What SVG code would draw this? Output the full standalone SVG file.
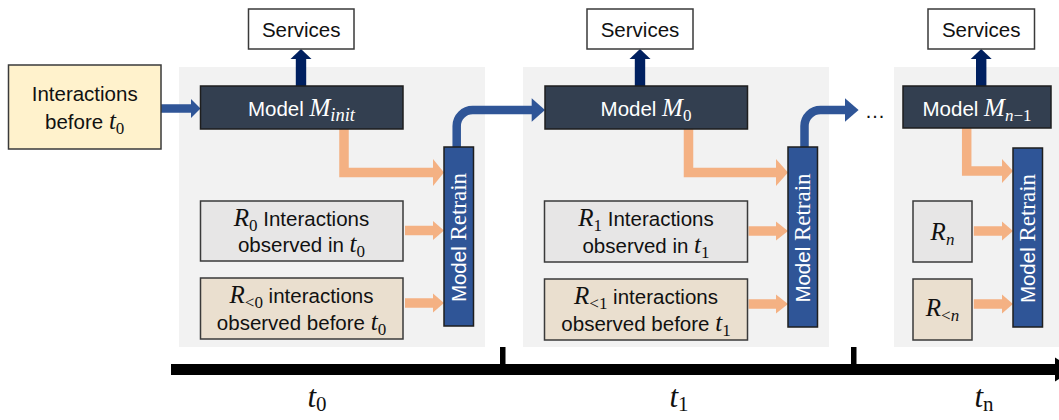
<svg xmlns="http://www.w3.org/2000/svg" width="1059" height="420" viewBox="0 0 1059 420">
<style>
.panel{fill:#F2F2F2}
.svc{fill:#FFFFFF;stroke:#3A3A3A;stroke-width:1.5}
.model{fill:#333F50;stroke:#1E1E1E;stroke-width:1.5}
.retrain{fill:#2F5597;stroke:#1E1E1E;stroke-width:1.5}
.inter{fill:#FFF2CC;stroke:#3A3A3A;stroke-width:1.5}
.rcur{fill:#E7E6E6;stroke:#3A3A3A;stroke-width:1.5}
.rold{fill:#EADFCF;stroke:#3A3A3A;stroke-width:1.5}
.t{font-family:"Liberation Sans",Arial,sans-serif;font-size:20.5px;fill:#111}
.w{fill:#FFFFFF}
.m{font-family:"Liberation Serif","Times New Roman",serif;font-style:italic}
.up{font-family:"Liberation Serif","Times New Roman",serif;font-style:normal}
.ob{fill:none;stroke:#F4B183;stroke-width:9.5;stroke-linejoin:miter}
.oh{fill:#F4B183}
.bb{fill:none;stroke:#2F5597;stroke-width:8.5}
.bh{fill:#2F5597}
.nv{fill:#002060}
</style>

<!-- panels -->
<g id="panel-t0"><rect class="panel" x="179" y="67" width="306" height="280"/></g>
<g id="panel-t1"><rect class="panel" x="523" y="67" width="306" height="280"/></g>
<g id="panel-tn"><rect class="panel" x="894" y="67" width="165" height="280"/></g>

<!-- connectors -->
<g id="connectors">
  <line class="bb" x1="161" y1="108.5" x2="192" y2="108.5" stroke-width="9"/>
  <polygon class="bh" points="191,99 200.5,108.5 191,118"/>
  <rect class="nv" x="295.8" y="58" width="10.4" height="28"/>
  <polygon class="nv" points="290.5,59 301,49 311.5,59"/>
  <rect class="nv" x="634.8" y="58" width="10.4" height="28"/>
  <polygon class="nv" points="629.5,59 640,49 650.5,59"/>
  <rect class="nv" x="976" y="58" width="10.4" height="28"/>
  <polygon class="nv" points="970.7,59 981.2,49 991.7,59"/>
  <path class="ob" d="M344,129 V172.5 H434"/>
  <polygon class="oh" points="433,159 444,172.5 433,186"/>
  <path class="ob" d="M688.5,129 V172.5 H777"/>
  <polygon class="oh" points="776,159 788,172.5 776,186"/>
  <path class="ob" d="M966.7,128 V171 H1003" stroke-width="8"/>
  <polygon class="oh" points="1002,159 1013,171 1002,183"/>
  <line class="ob" x1="405" y1="230.5" x2="434" y2="230.5"/>
  <polygon class="oh" points="433,221 444,230.5 433,240"/>
  <line class="ob" x1="405" y1="303" x2="434" y2="303"/>
  <polygon class="oh" points="433,293.5 444,303 433,312.5"/>
  <line class="ob" x1="748.6" y1="231" x2="777" y2="231"/>
  <polygon class="oh" points="776,221.5 788,231 776,240.5"/>
  <line class="ob" x1="748.6" y1="304" x2="777" y2="304"/>
  <polygon class="oh" points="776,294.5 788,304 776,313.5"/>
  <line class="ob" x1="973.8" y1="231" x2="1003" y2="231"/>
  <polygon class="oh" points="1002,221.5 1013,231 1002,240.5"/>
  <line class="ob" x1="973.8" y1="304" x2="1003" y2="304"/>
  <polygon class="oh" points="1002,294.5 1013,304 1002,313.5"/>
  <path class="bb" d="M456.7,147 V126 A16,16 0 0 1 472.7,110 H533"/>
  <polygon class="bh" points="531.7,98.3 545,110 531.7,121.7"/>
  <path class="bb" d="M804.5,147 V126 A16,16 0 0 1 820.5,110 H846"/>
  <polygon class="bh" points="845,98.3 858.6,110 845,121.7"/>
</g>

<!-- nodes -->
<g id="interactions-before-t0">
  <rect class="inter" x="8.5" y="65" width="152.5" height="84"/>
  <text class="t" x="84.7" y="100.5" text-anchor="middle">Interactions</text>
  <text class="t" x="84.7" y="128.5" text-anchor="middle">before <tspan class="m" font-size="25">t</tspan><tspan class="up" font-size="17" dy="5">0</tspan></text>
</g>

<g id="services-1">
  <rect class="svc" x="248.5" y="9" width="105.5" height="40"/>
  <text class="t" x="301.2" y="37" text-anchor="middle">Services</text>
</g>
<g id="services-2">
  <rect class="svc" x="587" y="9" width="106" height="40"/>
  <text class="t" x="640" y="37" text-anchor="middle">Services</text>
</g>
<g id="services-3">
  <rect class="svc" x="928" y="9" width="106.5" height="40"/>
  <text class="t" x="981.2" y="37" text-anchor="middle">Services</text>
</g>

<g id="model-init">
  <rect class="model" x="200.5" y="86" width="202.5" height="43"/>
  <text class="t w" x="301.5" y="116" text-anchor="middle">Model <tspan class="m" font-size="25">M</tspan><tspan class="m" font-size="18.5" dy="5">init</tspan></text>
</g>
<g id="model-0">
  <rect class="model" x="545" y="86" width="202.5" height="43"/>
  <text class="t w" x="646" y="116" text-anchor="middle">Model <tspan class="m" font-size="25">M</tspan><tspan class="up" font-size="17" dy="5">0</tspan></text>
</g>
<g id="model-n-1">
  <rect class="model" x="903" y="86" width="148" height="42"/>
  <text class="t w" x="977" y="116" text-anchor="middle">Model <tspan class="m" font-size="25">M</tspan><tspan class="m" font-size="17" dy="5">n</tspan><tspan class="up" font-size="17">−1</tspan></text>
</g>

<g id="ellipsis"><text class="t" x="875" y="118" text-anchor="middle">…</text></g>

<g id="retrain-1">
  <rect class="retrain" x="444" y="147" width="29.5" height="179"/>
  <text class="t w" transform="translate(465.5,237.5) rotate(-90)" text-anchor="middle" font-size="19.5">Model <tspan class="up" font-size="23">Retrain</tspan></text>
</g>
<g id="retrain-2">
  <rect class="retrain" x="788" y="147" width="29.5" height="180"/>
  <text class="t w" transform="translate(809.5,238) rotate(-90)" text-anchor="middle" font-size="19.5">Model <tspan class="up" font-size="23">Retrain</tspan></text>
</g>
<g id="retrain-3">
  <rect class="retrain" x="1013" y="148" width="29.5" height="179"/>
  <text class="t w" transform="translate(1034.5,238.5) rotate(-90)" text-anchor="middle" font-size="19.5">Model <tspan class="up" font-size="23">Retrain</tspan></text>
</g>

<g id="r-0">
  <rect class="rcur" x="200.5" y="201" width="202.5" height="60"/>
  <text class="t" x="301.5" y="225.5" text-anchor="middle"><tspan class="m" font-size="25">R</tspan><tspan class="up" font-size="17" dy="5">0</tspan><tspan dy="-5"> Interactions</tspan></text>
  <text class="t" x="301.5" y="252" text-anchor="middle">observed in <tspan class="m" font-size="25">t</tspan><tspan class="up" font-size="17" dy="5">0</tspan></text>
</g>
<g id="r-lt-0">
  <rect class="rold" x="200.5" y="278" width="202.5" height="61"/>
  <text class="t" x="301.5" y="303" text-anchor="middle"><tspan class="m" font-size="25">R</tspan><tspan class="up" font-size="17" dy="5">&lt;0</tspan><tspan dy="-5"> interactions</tspan></text>
  <text class="t" x="301.5" y="329.5" text-anchor="middle">observed before <tspan class="m" font-size="25">t</tspan><tspan class="up" font-size="17" dy="5">0</tspan></text>
</g>
<g id="r-1">
  <rect class="rcur" x="544.5" y="201" width="203" height="61"/>
  <text class="t" x="646" y="225.5" text-anchor="middle"><tspan class="m" font-size="25">R</tspan><tspan class="up" font-size="17" dy="5">1</tspan><tspan dy="-5"> Interactions</tspan></text>
  <text class="t" x="646" y="252.5" text-anchor="middle">observed in <tspan class="m" font-size="25">t</tspan><tspan class="up" font-size="17" dy="5">1</tspan></text>
</g>
<g id="r-lt-1">
  <rect class="rold" x="544.5" y="279" width="203" height="61"/>
  <text class="t" x="646" y="304" text-anchor="middle"><tspan class="m" font-size="25">R</tspan><tspan class="up" font-size="17" dy="5">&lt;1</tspan><tspan dy="-5"> interactions</tspan></text>
  <text class="t" x="646" y="330.5" text-anchor="middle">observed before <tspan class="m" font-size="25">t</tspan><tspan class="up" font-size="17" dy="5">1</tspan></text>
</g>
<g id="r-n">
  <rect class="rcur" x="913" y="201" width="59" height="61"/>
  <text class="t" x="942.5" y="240" text-anchor="middle"><tspan class="m" font-size="25">R</tspan><tspan class="m" font-size="17" dy="5">n</tspan></text>
</g>
<g id="r-lt-n">
  <rect class="rold" x="913" y="279" width="59" height="61"/>
  <text class="t" x="942.5" y="316" text-anchor="middle"><tspan class="m" font-size="25">R</tspan><tspan class="up" font-size="17" dy="5">&lt;</tspan><tspan class="m" font-size="17">n</tspan></text>
</g>

<!-- timeline -->
<g id="timeline">
  <rect x="171" y="364" width="886" height="11" fill="#000"/>
  <polygon points="1055,357.5 1075,369.5 1055,381.5" fill="#000"/>
  <rect x="500" y="347" width="5.5" height="18" fill="#000"/>
  <rect x="851" y="347" width="5.5" height="18" fill="#000"/>
  <text x="317" y="407" text-anchor="middle" font-family="Liberation Serif,serif" fill="#111"><tspan class="m" font-size="31">t</tspan><tspan class="up" font-size="21" dy="4">0</tspan></text>
  <text x="679" y="407" text-anchor="middle" font-family="Liberation Serif,serif" fill="#111"><tspan class="m" font-size="31">t</tspan><tspan class="up" font-size="21" dy="4">1</tspan></text>
  <text x="984" y="407" text-anchor="middle" font-family="Liberation Serif,serif" fill="#111"><tspan class="m" font-size="31">t</tspan><tspan class="up" font-size="21" dy="4">n</tspan></text>
</g>
</svg>
